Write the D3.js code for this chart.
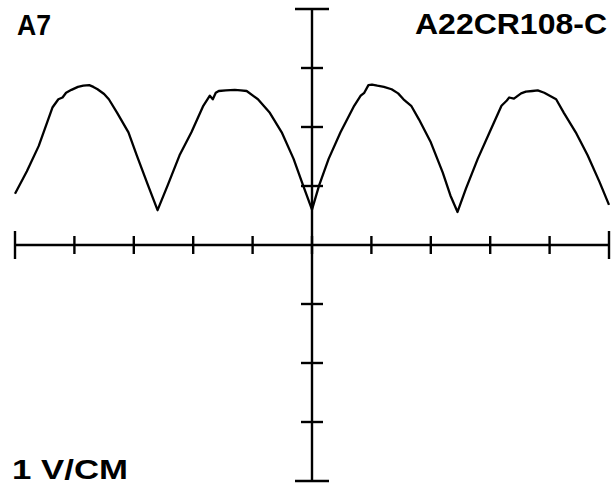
<!DOCTYPE html>
<html>
<head>
<meta charset="utf-8">
<script src="https://cdn.jsdelivr.net/npm/d3@7"></script>
<style>
  html, body { margin: 0; padding: 0; background: #fff; }
  text { font-family: "Liberation Sans", Arial, Helvetica, sans-serif; font-weight: bold; fill: #000; }
</style>
</head>
<body>
<div id="chart"></div>
<script>
// scope trace, horizontal in divisions, vertical in volts (1 V/CM)
const traceX = [-5.0, -4.8, -4.6, -4.37, -4.27, -4.2, -4.14, -4.05, -3.94, -3.85, -3.75, -3.68, -3.61, -3.5, -3.42, -3.28, -3.09, -2.95, -2.76, -2.6,
  -2.43, -2.23, -2.03, -1.83, -1.72, -1.67, -1.62, -1.57, -1.45, -1.3, -1.2, -1.1, -0.91, -0.71, -0.51, -0.31, -0.15, 0.0,
  0.12, 0.28, 0.48, 0.71, 0.82, 0.88, 0.95, 1.01, 1.1, 1.21, 1.34, 1.45, 1.54, 1.67, 1.8, 2.0, 2.2, 2.33, 2.45,
  2.59, 2.79, 2.99, 3.19, 3.28, 3.32, 3.4, 3.52, 3.6, 3.71, 3.8, 3.91, 4.11, 4.24, 4.44, 4.64, 4.84, 5.0];
const traceY = [0.87, 1.25, 1.68, 2.33, 2.47, 2.5, 2.58, 2.63, 2.68, 2.7, 2.71, 2.68, 2.64, 2.56, 2.47, 2.24, 1.91, 1.52, 1.01, 0.59,
  1.01, 1.52, 1.91, 2.36, 2.53, 2.47, 2.58, 2.61, 2.62, 2.63, 2.62, 2.61, 2.47, 2.24, 1.91, 1.46, 1.01, 0.6,
  1.01, 1.46, 1.91, 2.36, 2.53, 2.58, 2.71, 2.72, 2.7, 2.68, 2.64, 2.57, 2.47, 2.36, 2.13, 1.74, 1.23, 0.84, 0.56,
  0.95, 1.46, 1.91, 2.36, 2.45, 2.5, 2.48, 2.57, 2.6, 2.61, 2.62, 2.58, 2.47, 2.24, 1.91, 1.52, 1.07, 0.68];

const xTicks = [-5, -4, -3, -2, -1, 0, 1, 2, 3, 4, 5];
const yTicks = [-4, -3, -2, -1, 0, 1, 2, 3, 4];

const labelLeft = "A7";
const labelRight = "A22CR108-C";
const labelScale = "1 V/CM";

const width = 613, height = 489;

const svg = d3.select("#chart").append("svg")
  .attr("width", width)
  .attr("height", height);

const x = d3.scaleLinear().domain([-5, 5]).range([15, 609]);
const y = d3.scaleLinear().domain([-4, 4]).range([481, 9]);

const axes = svg.append("g")
  .attr("stroke", "#000")
  .attr("stroke-width", 2.4)
  .attr("fill", "none");

// main axes
axes.append("line")
  .attr("x1", x(-5)).attr("x2", x(5))
  .attr("y1", y(0)).attr("y2", y(0));
axes.append("line")
  .attr("x1", x(0)).attr("x2", x(0))
  .attr("y1", y(4)).attr("y2", y(-4));

// ticks along horizontal axis (ends are longer)
axes.selectAll(".xtick")
  .data(xTicks)
  .join("line")
  .attr("class", "xtick")
  .attr("x1", d => x(d)).attr("x2", d => x(d))
  .attr("y1", d => y(0) - (Math.abs(d) === 5 ? 14 : 9))
  .attr("y2", d => y(0) + (Math.abs(d) === 5 ? 14 : 9));

// ticks along vertical axis
axes.selectAll(".ytick")
  .data(yTicks.filter(d => d !== 0))
  .join("line")
  .attr("class", "ytick")
  .attr("x1", d => x(0) - (Math.abs(d) === 4 ? 17 : 11))
  .attr("x2", d => x(0) + (Math.abs(d) === 4 ? 17 : 11))
  .attr("y1", d => y(d)).attr("y2", d => y(d));

// the trace
const line = d3.line()
  .x(d => x(d[0]))
  .y(d => y(d[1]));

svg.append("path")
  .datum(d3.zip(traceX, traceY))
  .attr("d", line)
  .attr("fill", "none")
  .attr("stroke", "#000")
  .attr("stroke-width", 2.3)
  .attr("stroke-linejoin", "round");

// labels
svg.append("text")
  .attr("x", 17).attr("y", 35)
  .attr("font-size", 30)
  .attr("textLength", 34)
  .attr("lengthAdjust", "spacingAndGlyphs")
  .text(labelLeft);

svg.append("text")
  .attr("x", 415).attr("y", 34)
  .attr("font-size", 29)
  .attr("textLength", 192)
  .attr("lengthAdjust", "spacingAndGlyphs")
  .text(labelRight);

svg.append("text")
  .attr("x", 12).attr("y", 479)
  .attr("font-size", 28)
  .attr("textLength", 116)
  .attr("lengthAdjust", "spacingAndGlyphs")
  .text(labelScale);
</script>
</body>
</html>
